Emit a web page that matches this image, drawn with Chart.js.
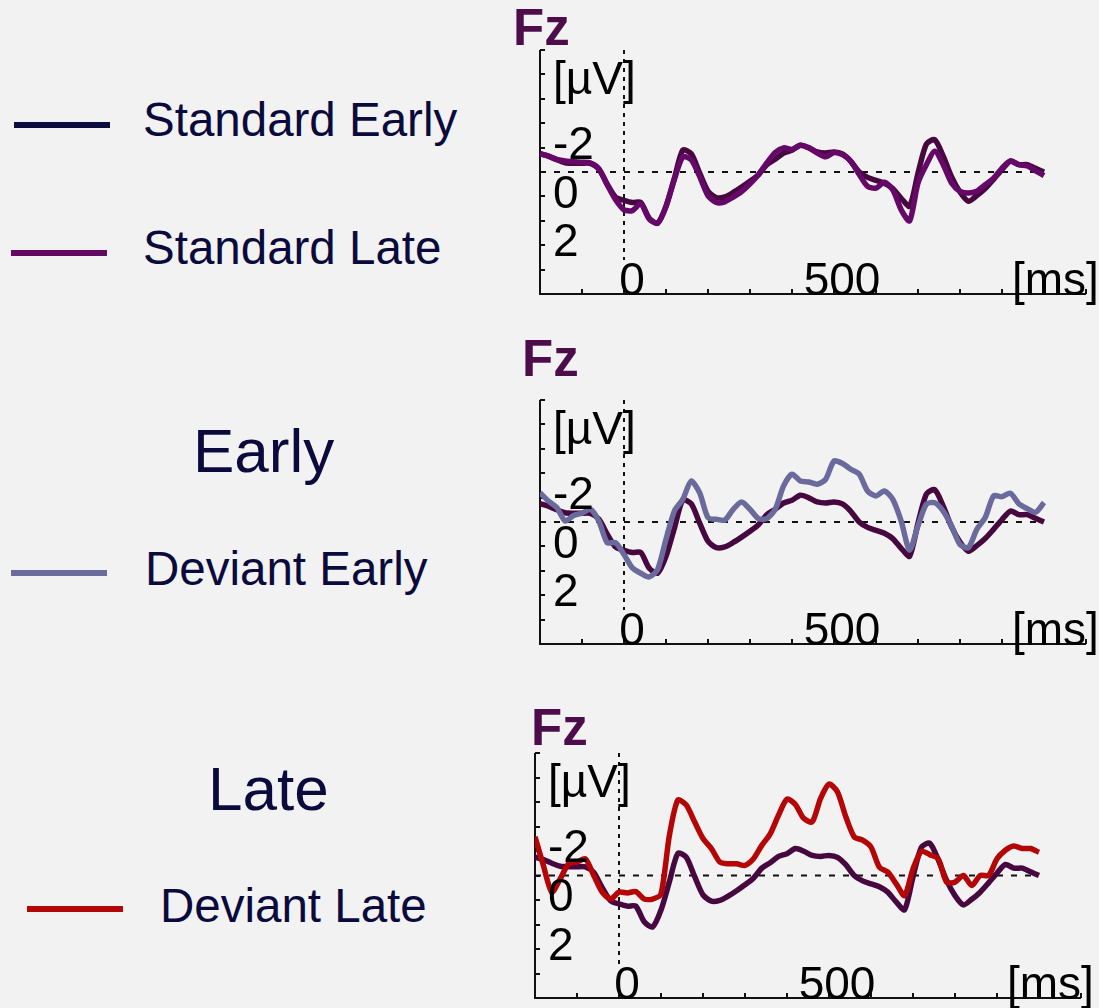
<!DOCTYPE html>
<html><head><meta charset="utf-8">
<script src="https://cdn.jsdelivr.net/npm/chart.js@4.4.1/dist/chart.umd.min.js"></script>
<style>
html,body{margin:0;padding:0;background:#f2f2f2;width:1099px;height:1008px;overflow:hidden;font-family:'Liberation Sans',Arial,sans-serif;}
canvas{position:absolute;}
.t{position:absolute;white-space:nowrap;color:#0a0a3c;line-height:1;}
.sw{position:absolute;}
</style></head><body>
<canvas id="p1" width="599" height="320" style="left:500px;top:0px"></canvas>
<canvas id="p2" width="599" height="330" style="left:500px;top:330px"></canvas>
<canvas id="p3" width="599" height="328" style="left:500px;top:680px"></canvas>
<script>
// ---- data (time in ms, amplitude in µV; negative plotted upward) ----
const timesMs = [-200,-180,-160,-140,-120,-100,-80,-60,-40,-20,0,20,40,60,80,100,120,140,160,180,200,220,240,260,280,300,320,340,360,380,400,420,440,460,480,500,520,540,560,580,600,620,640,660,680,700,720,740,760,780,800,820,840,860,880,900,920,940,960,980,1000];
const standardEarly = [-0.75,-0.65,-0.5,-0.38,-0.36,-0.36,-0.35,-0.12,0.5,1.03,1.16,1.25,1.25,1.89,2.1,1.41,0.25,-0.9,-0.75,0.04,0.79,1.05,1.02,0.84,0.62,0.38,0.11,-0.3,-0.52,-0.78,-0.89,-1.1,-0.99,-0.82,-0.78,-0.82,-0.74,-0.44,0.0,0.22,0.34,0.46,0.68,1.08,1.4,0.05,-1.15,-1.32,-0.65,0.2,0.82,1.2,0.97,0.68,0.3,-0.1,-0.45,-0.3,-0.3,-0.15,0.0];
const standardLate = [-0.75,-0.65,-0.52,-0.45,-0.42,-0.4,-0.37,-0.14,0.52,1.14,1.55,1.58,1.3,1.92,2.1,1.41,0.3,-0.62,-0.5,0.18,0.97,1.25,1.22,1.03,0.8,0.48,0.11,-0.37,-0.8,-0.99,-0.92,-1.1,-0.99,-0.78,-0.62,-0.8,-0.71,-0.44,0.1,0.59,0.66,0.42,0.73,1.55,2.0,0.45,-0.3,-0.85,-0.3,0.45,0.79,0.86,0.79,0.52,0.25,-0.16,-0.45,-0.3,-0.25,-0.05,0.15];
const deviantEarly = [-1.2,-0.86,-0.59,-0.04,-0.27,-0.36,-0.52,-0.04,0.85,0.85,1.33,1.88,2.1,2.25,1.95,0.71,-0.45,-0.93,-1.68,-1.2,-0.18,-0.11,-0.08,-0.52,-0.82,-0.52,-0.14,-0.14,-0.52,-1.48,-1.96,-1.68,-1.64,-1.55,-1.75,-2.5,-2.4,-2.16,-1.96,-1.27,-1.07,-1.27,-0.93,-0.04,1.15,0.16,-0.73,-0.79,-0.45,0.16,0.92,1.05,0.3,-0.18,-1.07,-1.04,-1.18,-0.75,-0.55,-0.4,-0.8];
const deviantLate = [-1.58,-0.41,0.68,0.14,-0.48,-0.55,-0.68,0.0,0.68,0.96,0.68,0.71,0.66,0.96,0.96,0.75,-1.64,-3.08,-2.88,-2.19,-1.51,-1.1,-0.55,-0.48,-0.48,-0.41,-0.68,-1.23,-1.7,-2.47,-3.12,-2.9,-2.33,-2.19,-3.15,-3.73,-3.42,-2.4,-1.58,-1.44,-1.16,-0.34,-0.14,0.34,0.82,-0.27,-0.99,-0.85,-0.68,0.27,0.27,0.0,0.41,0.0,0.0,-0.68,-1.03,-1.2,-1.1,-1.1,-0.95];
const yTickLabels = [-2, 0, 2];
const xTickLabels = [0, 500];
const yTickValues = [-5,-4,-3,-2,-1,0,1,2,3,4,5];
const xTickValues = [-200,-100,0,100,200,300,400,500,600,700,800,900,1000,1100];
const channelName = 'Fz';
const yUnit = '[µV]';
const xUnit = '[ms]';

// ---- legend (left side) ----
const FONT = "'Liberation Sans', Arial, sans-serif";
const legendTexts = [
  {text:'Standard Early', x:143, base:136, fs:47.5},
  {text:'Standard Late', x:143, base:264, fs:47.5},
  {text:'Early', x:193, base:472, fs:62},
  {text:'Deviant Early', x:145, base:585, fs:47.5},
  {text:'Late', x:208, base:810, fs:62},
  {text:'Deviant Late', x:160, base:922, fs:47.5}
];
const legendSwatches = [
  {x:14, y:122, w:96, h:6, color:'#0c0c40'},
  {x:11, y:250, w:96, h:6, color:'#620a62'},
  {x:11, y:570, w:96, h:6, color:'#6b6b9d'},
  {x:27, y:906, w:96, h:6, color:'#b30707'}
];
legendTexts.forEach(o => {
  const d = document.createElement('div');
  d.className = 't';
  d.textContent = o.text;
  d.style.fontSize = o.fs + 'px';
  d.style.left = o.x + 'px';
  d.style.top = (o.base - 0.8465 * o.fs) + 'px';
  document.body.appendChild(d);
});
legendSwatches.forEach(o => {
  const d = document.createElement('div');
  d.className = 'sw';
  Object.assign(d.style, {left:o.x+'px', top:o.y+'px', width:o.w+'px', height:o.h+'px', background:o.color});
  document.body.appendChild(d);
});

// ---- axes plugin ----
const erpPlugin = {
  id: 'erpAxes',
  beforeDatasetsDraw(chart) {
    const {ctx, chartArea:a, scales:{x, y}} = chart;
    ctx.save();
    ctx.strokeStyle = '#111';
    ctx.lineWidth = 2;
    const y0 = y.getPixelForValue(0);
    ctx.setLineDash([6, 8]);
    ctx.beginPath(); ctx.moveTo(a.left, y0); ctx.lineTo(x.getPixelForValue(1000), y0); ctx.stroke();
    const x0 = x.getPixelForValue(0);
    ctx.setLineDash([4, 5]);
    ctx.beginPath(); ctx.moveTo(x0, a.top); ctx.lineTo(x0, a.bottom - 34); ctx.stroke();
    ctx.setLineDash([]);
    ctx.beginPath();
    ctx.moveTo(a.left, a.top); ctx.lineTo(a.left, a.bottom); ctx.lineTo(a.right, a.bottom);
    ctx.stroke();
    ctx.beginPath();
    yTickValues.forEach(v => { const p = Math.round(y.getPixelForValue(v)); ctx.moveTo(a.left, p); ctx.lineTo(a.left + 5, p); });
    xTickValues.forEach(v => { const p = Math.round(x.getPixelForValue(v)); ctx.moveTo(p, a.bottom); ctx.lineTo(p, a.bottom - 5); });
    ctx.stroke();
    ctx.restore();
  },
  afterDatasetsDraw(chart, args, opts) {
    const {ctx, chartArea:a, scales:{x, y}} = chart;
    ctx.save();
    ctx.fillStyle = '#000';
    ctx.font = '46px ' + FONT;
    ctx.textBaseline = 'middle';
    ctx.textAlign = 'left';
    yTickLabels.forEach(v => ctx.fillText(String(v), a.left + 13, y.getPixelForValue(v) + 23));
    ctx.textBaseline = 'alphabetic';
    ctx.textAlign = 'center';
    xTickLabels.forEach(v => ctx.fillText(String(v), x.getPixelForValue(v) + 8, a.bottom + 1));
    ctx.textAlign = 'left';
    ctx.fillText(yUnit, a.left + 13, a.top + 44);
    ctx.fillText(xUnit, a.left + 472, a.bottom + 1);
    ctx.fillStyle = '#4d0c4a';
    ctx.font = 'bold 51px ' + FONT;
    ctx.fillText(channelName, opts.titleX, opts.titleY);
    ctx.restore();
  }
};

function makePanel(id, pad, title, series) {
  new Chart(document.getElementById(id), {
    type: 'line',
    data: {
      datasets: series.map(s => ({
        label: s.label,
        data: timesMs.map((t, i) => ({x: t, y: s.values[i]})),
        borderColor: s.color,
        borderWidth: 5.5,
        pointRadius: 0,
        tension: 0.25,
        fill: false,
        order: s.order
      }))
    },
    options: {
      responsive: false,
      animation: false,
      devicePixelRatio: 1,
      layout: {padding: pad},
      plugins: {legend: {display: false}, tooltip: {enabled: false}, erpAxes: title},
      scales: {
        x: {type: 'linear', min: -200, max: 1100, display: false},
        y: {type: 'linear', min: -5, max: 5, reverse: true, display: false}
      }
    },
    plugins: [erpPlugin]
  });
}

makePanel('p1', {left:40, top:50, right:13, bottom:26}, {titleX:13, titleY:45}, [
  {label:'Standard Early', values:standardEarly, color:'#46083f', order:2},
  {label:'Standard Late', values:standardLate, color:'#650868', order:1}
]);
makePanel('p2', {left:40, top:70, right:13, bottom:16}, {titleX:22, titleY:46}, [
  {label:'Standard Early', values:standardEarly, color:'#46083f', order:2},
  {label:'Deviant Early', values:deviantEarly, color:'#6a6a9c', order:1}
]);
makePanel('p3', {left:35, top:73, right:18, bottom:10}, {titleX:31, titleY:65}, [
  {label:'Standard Early', values:standardEarly, color:'#46083f', order:2},
  {label:'Deviant Late', values:deviantLate, color:'#b40606', order:1}
]);
</script>
</body></html>
